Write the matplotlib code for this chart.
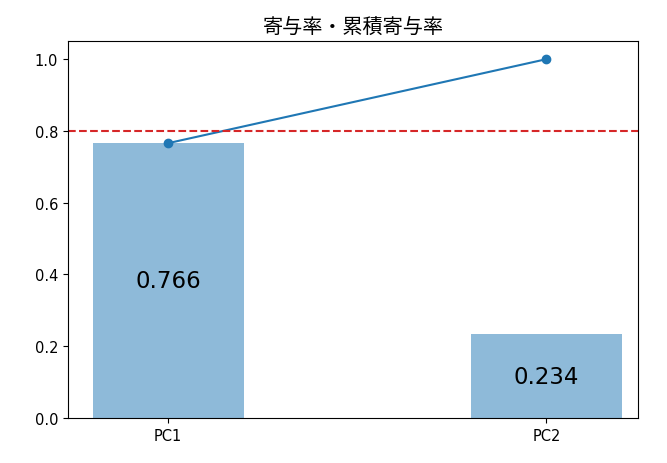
import numpy as np
import matplotlib
matplotlib.use('Agg')
import matplotlib.pyplot as plt

plt.rcParams['font.family'] = ['DejaVu Sans', 'Noto Sans CJK JP']

labels = ['PC1', 'PC2']
ratio = [0.766, 0.234]
cum_ratio = [0.766, 1.0]
threshold = 0.8

fig = plt.figure(figsize=(6.67, 4.64), dpi=100)
ax = fig.add_axes([0.102, 0.097, 0.855, 0.812])
x = np.arange(len(labels))
ax.bar(x, ratio, width=0.4, alpha=0.5)
ax.plot(x, cum_ratio, marker='o')
ax.axhline(threshold, color='tab:red', linestyle='--')
for xi, r in zip(x, ratio):
    ax.text(xi, r / 2, '{:.3f}'.format(r), ha='center', va='center', fontsize=16.5)
ax.set_xticks(x)
ax.set_xticklabels(labels)
ax.set_xlim(-0.265, 1.243)
ax.tick_params(labelsize=10.5)
ax.set_title('寄与率・累積寄与率', family=['Noto Sans CJK JP'], fontsize=14.5)
fig.savefig('out.png')
